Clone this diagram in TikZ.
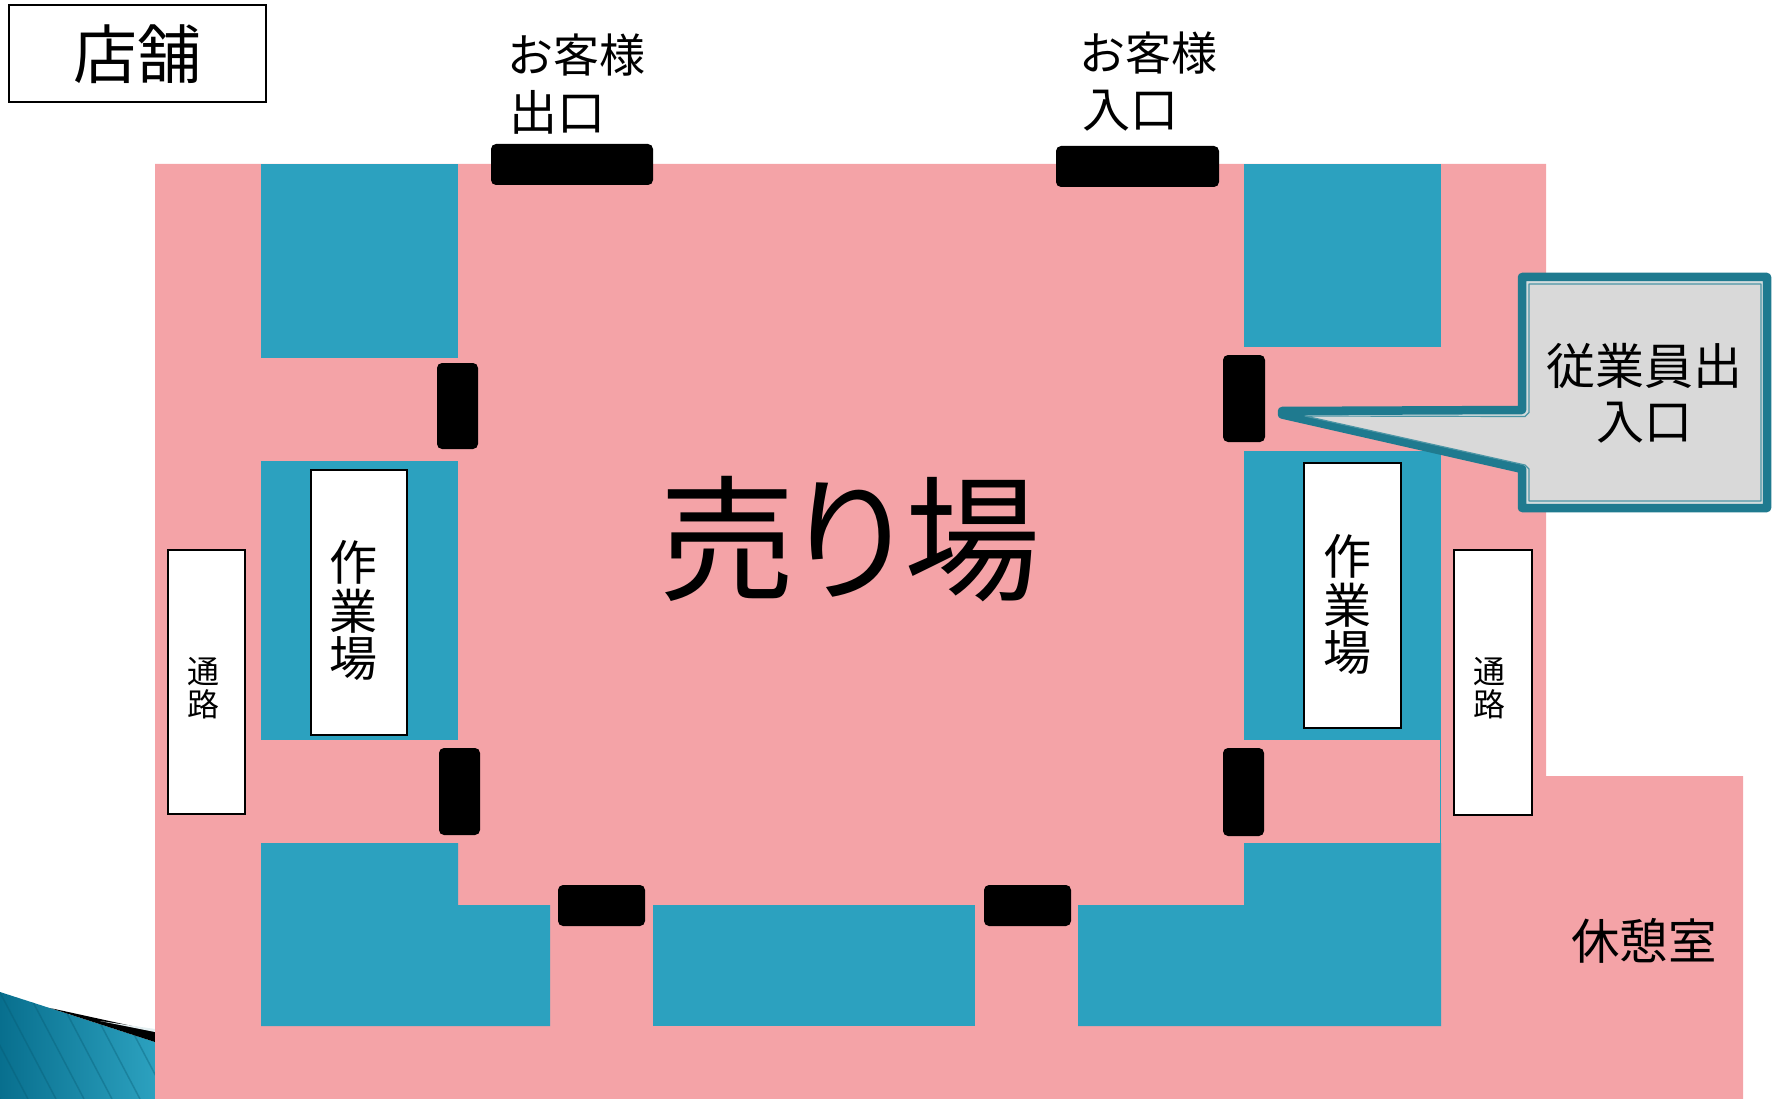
\documentclass[tikz,border=0pt]{standalone}
\usepackage{fontspec}
\setmainfont{Noto Sans CJK JP}
\definecolor{roomPink}{HTML}{F4A3A7}
\definecolor{zoneBlue}{HTML}{2CA1BF}
\definecolor{calloutTeal}{HTML}{1F7A8F}
\definecolor{calloutFill}{HTML}{D9D9D9}
\definecolor{cornerDark}{HTML}{086F8E}
\definecolor{cornerGap}{HTML}{D3DCDD}
\tikzset{
  zone/.style={fill=zoneBlue,draw=none},
  door/.style={fill=black,draw=none,rounded corners=5pt},
  whitebox/.style={fill=white,draw=black,line width=2pt,inner sep=0pt},
  txt/.style={inner sep=0pt,align=center,text=black},
  tfont/.style={font=\fontsize{#1}{#1}\selectfont}
}
\begin{document}
\begin{tikzpicture}[x=1pt,y=-1pt]
\useasboundingbox (0,0) rectangle (1775,1099);
\clip (0,0) rectangle (1775,1099);
% corner decoration
\begin{scope}
  \clip (0,992) -- (155,1042) -- (155,1099) -- (0,1099) -- cycle;
  \shade[left color=cornerDark,right color=zoneBlue] (0,985) rectangle (155,1099);
  \foreach \k in {-60,-32,...,210}
    \draw[cornerDark!80!black,opacity=.35,line width=1.5pt] (\k,985) -- (\k+60,1099);
\end{scope}
\fill[black] (50,1008) -- (155,1031) -- (155,1042) -- cycle;
\fill[calloutTeal!12] (100,1021) -- (155,1029) -- (155,1032) -- cycle;
% floor
\fill[roomPink] (155,164) -- (1546,164) -- (1546,776) -- (1743,776) -- (1743,1099) -- (155,1099) -- cycle;
% blue zones
\fill[zone] (261,164) rectangle (458,358);
\fill[zone] (261,461) rectangle (458,740);
\fill[zone] (1244,164) rectangle (1441,347);
\fill[zone] (1244,451) rectangle (1441,740);
\fill[zone] (261,843) -- (458,843) -- (458,905) -- (550,905) -- (550,1026) -- (261,1026) -- cycle;
\fill[zone] (653,905) rectangle (975,1026);
\fill[zone] (1078,905) -- (1244,905) -- (1244,843) -- (1441,843) -- (1441,1026) -- (1078,1026) -- cycle;
\draw[zoneBlue,line width=1pt] (1440.5,740) -- (1440.5,843);
% doors
\fill[door] (491,144) rectangle (653,185);
\fill[door] (1056,146) rectangle (1219,187);
\fill[door] (437,363) rectangle (478,449);
\fill[door] (439,748) rectangle (480,835);
\fill[door] (1223,355) rectangle (1265,442);
\fill[door] (1223,748) rectangle (1264,836);
\fill[door] (558,885) rectangle (645,926);
\fill[door] (984,885) rectangle (1071,926);
% white boxes
\node[whitebox,minimum width=257pt,minimum height=97pt] (title) at (137,53.5) {};
\node[whitebox,minimum width=96pt,minimum height=265pt] (workL) at (359,602) {};
\node[whitebox,minimum width=96.5pt,minimum height=265pt] (workR) at (1352.3,595) {};
\node[whitebox,minimum width=77pt,minimum height=264pt] (aisleL) at (206.5,681.5) {};
\node[whitebox,minimum width=77.5pt,minimum height=265pt] (aisleR) at (1492.8,682) {};
% callout
\fill[cornerGap,draw=calloutTeal,line width=8.5pt,line join=round]
  (1522,277) -- (1767,277) -- (1767,508) -- (1522,508) -- (1522,469) -- (1282,414.5) -- (1282,411) -- (1522,410) -- cycle;
\fill[calloutFill,draw=calloutTeal!80!white,line width=1.2pt,line join=round]
  (1529,284) -- (1761,284) -- (1761,501) -- (1529,501) -- (1529,469) -- (1525,465) -- (1305,416) -- (1525,416.5) -- (1529,412.5) -- cycle;
% labels
\node[txt,tfont=64] (titleT) at (137,54) {店舗};
\node[txt,tfont=46] (exitA) at (576,55) {お客様};
\node[txt,tfont=48] (exitB) at (557,112) {出口};
\node[txt,tfont=46] (entA) at (1148,53) {お客様};
\node[txt,tfont=48] (entB) at (1130,111) {入口};
\node[txt,tfont=136] (sales) at (850,539) {\addfontfeature{LetterSpace=-10}売り場};
\node[txt,tfont=48] (wLa) at (353,562) {作};
\node[txt,tfont=48] (wLb) at (353,611) {業};
\node[txt,tfont=48] (wLc) at (353,659) {場};
\node[txt,tfont=48] (wRa) at (1347,556) {作};
\node[txt,tfont=48] (wRb) at (1347,605) {業};
\node[txt,tfont=48] (wRc) at (1347,653) {場};
\node[txt,tfont=32] (aLa) at (203,672) {通};
\node[txt,tfont=32] (aLb) at (203,704) {路};
\node[txt,tfont=32] (aRa) at (1489,672) {通};
\node[txt,tfont=32] (aRb) at (1489,704) {路};
\node[txt,tfont=48.5] (rest) at (1644,941) {休憩室};
\node[txt,tfont=49] (stA) at (1644,366) {従業員出};
\node[txt,tfont=48] (stB) at (1644,423) {入口};
\end{tikzpicture}
\end{document}
